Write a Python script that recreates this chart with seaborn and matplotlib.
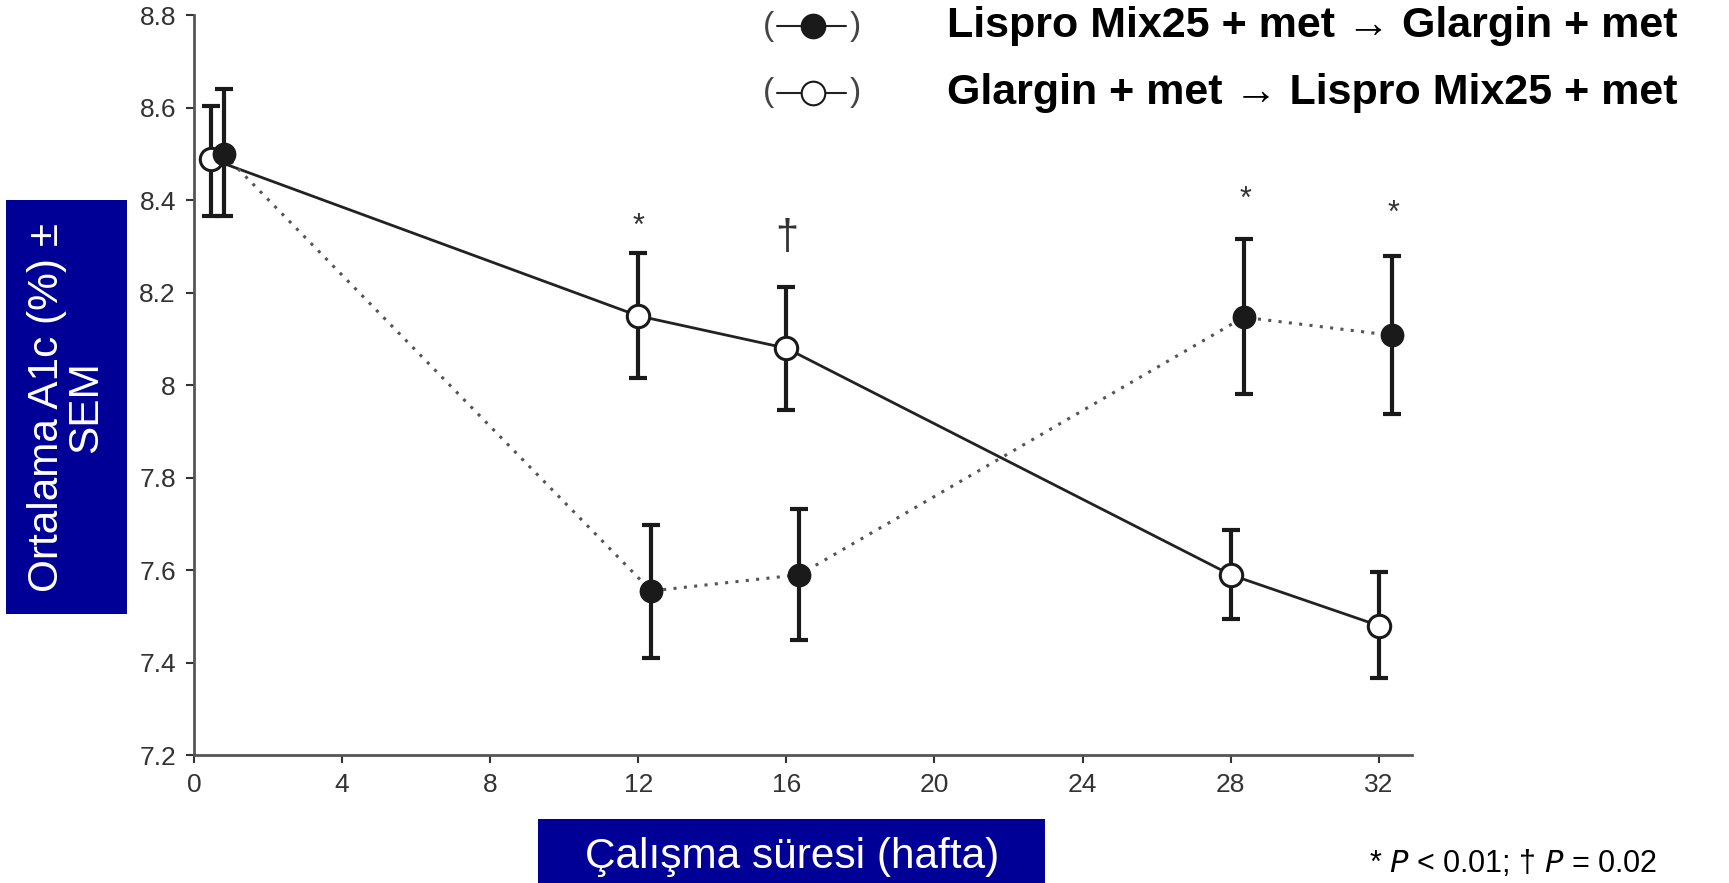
import matplotlib
matplotlib.use("Agg")
import matplotlib.pyplot as plt
from matplotlib.lines import Line2D
from matplotlib.patches import Rectangle
import seaborn as sns
import pandas as pd

# weeks (each arm is drawn slightly dodged, as in the original figure)
weeks_open = [0.45, 12, 16, 28, 32]
weeks_filled = [0.8, 12.35, 16.35, 28.35, 32.35]

# Glargin + met -> Lispro Mix25 + met (open circles, solid line)
a1c_open = [8.49, 8.15, 8.08, 7.59, 7.48]
sem_open_hi = [8.605, 8.287, 8.213, 7.686, 7.596]
sem_open_lo = [8.366, 8.015, 7.946, 7.495, 7.367]

# Lispro Mix25 + met -> Glargin + met (filled circles, dotted line)
a1c_filled = [8.50, 7.555, 7.59, 8.147, 8.108]
sem_filled_hi = [8.640, 7.698, 7.732, 8.316, 8.280]
sem_filled_lo = [8.366, 7.410, 7.448, 7.980, 7.937]

# significance marks
sig_x = [12, 16, 28.4, 32.4]
sig_y = [8.342, 8.318, 8.40, 8.37]
sig_marks = ["*", "\u2020", "*", "*"]

x_ticks = [0, 4, 8, 12, 16, 20, 24, 28, 32]
y_ticks = [7.2, 7.4, 7.6, 7.8, 8.0, 8.2, 8.4, 8.6, 8.8]

label_filled = "Lispro Mix25 + met \u2192 Glargin + met"
label_open = "Glargin + met \u2192 Lispro Mix25 + met"

sns.set_style("ticks")
plt.rcParams["font.family"] = ["Liberation Sans", "DejaVu Sans"]

df = pd.concat([
    pd.DataFrame({"week": weeks_filled, "a1c": a1c_filled, "arm": "filled"}),
    pd.DataFrame({"week": weeks_open, "a1c": a1c_open, "arm": "open"}),
])

fig = plt.figure(figsize=(17.29, 8.83), dpi=100)
ax = fig.add_axes([0.1122, 0.1449, 0.7045, 0.8377])

# lines
sns.lineplot(data=df[df.arm == "open"], x="week", y="a1c", ax=ax, color="#222222",
             linewidth=2, sort=False, legend=False)
sns.lineplot(data=df[df.arm == "filled"], x="week", y="a1c", ax=ax, color="#555555",
             linewidth=2.2, linestyle=(0, (1, 2.4)), sort=False, legend=False)

# error bars
ax.errorbar(weeks_open, a1c_open,
            yerr=[[m - l for m, l in zip(a1c_open, sem_open_lo)],
                  [h - m for m, h in zip(a1c_open, sem_open_hi)]],
            fmt="none", ecolor="#1a1a1a", elinewidth=3, capsize=6.5, capthick=3, zorder=3)
ax.errorbar(weeks_filled, a1c_filled,
            yerr=[[m - l for m, l in zip(a1c_filled, sem_filled_lo)],
                  [h - m for m, h in zip(a1c_filled, sem_filled_hi)]],
            fmt="none", ecolor="#1a1a1a", elinewidth=3, capsize=6.5, capthick=3, zorder=3)

# markers
sns.scatterplot(x=weeks_open, y=a1c_open, ax=ax, s=260, color="white",
                edgecolor="#1a1a1a", linewidth=2.2, zorder=5, legend=False)
sns.scatterplot(x=weeks_filled, y=a1c_filled, ax=ax, s=260, color="#1a1a1a",
                edgecolor="#1a1a1a", linewidth=1, zorder=5, legend=False)

for x, y, m in zip(sig_x, sig_y, sig_marks):
    ax.text(x, y, m, ha="center", va="center", color="#333333",
            fontsize=30 if m != "*" else 22)

ax.set_xlim(0, 32.9)
ax.set_ylim(7.2, 8.8)
ax.set_xticks(x_ticks)
ax.set_yticks(y_ticks)
ax.set_yticklabels([f"{v:g}" for v in y_ticks])
ax.set_xlabel("")
ax.set_ylabel("")
ax.tick_params(axis="both", labelsize=19, colors="#333333", length=6, width=1.5, pad=7)
sns.despine(ax=ax)
for s in ["left", "bottom"]:
    ax.spines[s].set_linewidth(2)
    ax.spines[s].set_color("#555555")

# axis label boxes
blue = "#000096"
fig.add_artist(Rectangle((0.0032, 0.3046), 0.0703, 0.469, transform=fig.transFigure,
                         facecolor=blue, edgecolor="none"))
fig.text(0.0385, 0.539, "Ortalama A1c (%) \u00b1\nSEM", rotation=90, ha="center",
         va="center", color="white", fontsize=30.5, linespacing=1.0)
fig.add_artist(Rectangle((0.3112, -0.01), 0.2932, 0.0825, transform=fig.transFigure,
                         facecolor=blue, edgecolor="none"))
fig.text(0.458, 0.030, "\u00c7al\u0131\u015fma s\u00fcresi (hafta)", ha="center",
         va="center", color="white", fontsize=30.5)

# legend
for yy, face, label in [(0.970, "#1a1a1a", label_filled), (0.895, "white", label_open)]:
    fig.text(0.4445, yy, "(", ha="center", va="center", fontsize=24, color="#444444",
             fontweight="light")
    fig.text(0.4945, yy, ")", ha="center", va="center", fontsize=24, color="#444444",
             fontweight="light")
    fig.add_artist(Line2D([0.4495, 0.4895], [yy, yy], transform=fig.transFigure,
                          color="#222222", linewidth=1.5))
    fig.add_artist(Line2D([0.4700], [yy], transform=fig.transFigure, marker="o",
                          markersize=17, markerfacecolor=face, markeredgecolor="#1a1a1a",
                          markeredgewidth=1.5, linestyle="none"))
    fig.text(0.548, yy, label, ha="left", va="center", fontsize=31, fontweight="bold",
             color="black")

fig.text(0.792, 0.004, "* $P$ < 0.01; \u2020 $P$ = 0.02", ha="left", va="bottom",
         fontsize=22, color="black")

fig.savefig("out.png", dpi=100)
